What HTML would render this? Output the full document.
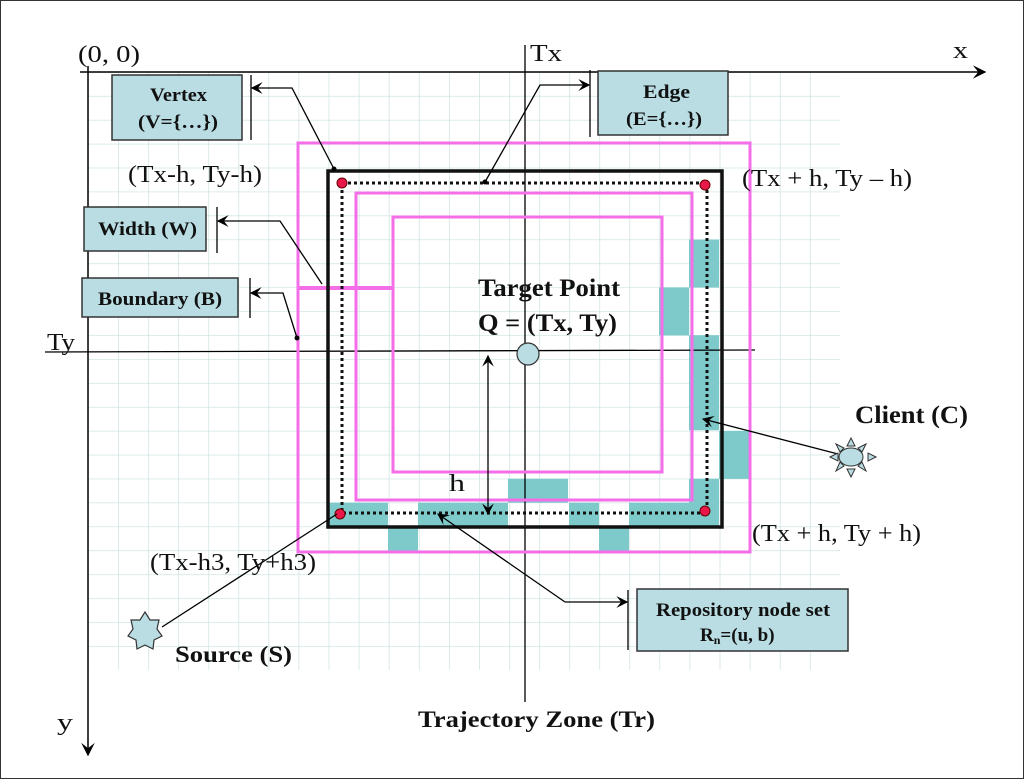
<!DOCTYPE html>
<html><head><meta charset="utf-8"><style>
html,body{margin:0;padding:0;background:#fff}
svg{display:block}
text{font-family:"Liberation Serif",serif}
.b{font-weight:bold}
</style></head><body>
<svg width="1024" height="779" viewBox="0 0 1024 779" xmlns="http://www.w3.org/2000/svg">
<defs>
<marker id="a" viewBox="0 0 10 10" refX="9" refY="5" markerWidth="9" markerHeight="9" orient="auto-start-reverse"><path d="M0,0 L10,5 L0,10 L4,5 z" fill="#000"/></marker>
<pattern id="g" x="88" y="72" width="30.08" height="23.92" patternUnits="userSpaceOnUse"><path d="M0,0 H30.08 M0,0 V23.92" stroke="#c9dfdf" stroke-width="1.3" fill="none"/></pattern>
</defs>
<rect x="0.5" y="0.5" width="1023" height="778" fill="#fff" stroke="#333"/>
<rect x="88" y="72" width="752" height="598" fill="url(#g)"/>
<g fill="#7ecaca">
<rect x="328" y="502.6" width="60" height="24"/>
<rect x="418" y="502.6" width="90" height="24"/>
<rect x="569" y="502.6" width="30" height="24"/>
<rect x="629" y="502.6" width="90" height="24"/>
<rect x="508" y="478.7" width="60" height="24"/>
<rect x="388" y="526.5" width="30" height="24"/>
<rect x="599" y="526.5" width="30" height="24"/>
<rect x="689" y="239.5" width="30" height="48"/>
<rect x="659" y="287.4" width="30" height="48"/>
<rect x="689" y="335.2" width="30" height="95"/>
<rect x="719" y="430.9" width="30" height="48"/>
<rect x="689" y="478.7" width="30" height="48"/>
</g>
<line x1="80" y1="72" x2="985" y2="72" stroke="#000" stroke-width="1.5" marker-end="url(#a)"/>
<line x1="88" y1="66" x2="88" y2="755" stroke="#000" stroke-width="1.5" marker-end="url(#a)"/>
<line x1="525" y1="45" x2="525" y2="702" stroke="#000" stroke-width="1.3"/>
<line x1="45" y1="352" x2="755" y2="350" stroke="#000" stroke-width="1.3"/>
<g fill="none" stroke="#f46ee8" stroke-width="3">
<rect x="298" y="143" width="452" height="409"/>
<rect x="356" y="193" width="336" height="307"/>
<rect x="393" y="217" width="269" height="255"/>
<line x1="298" y1="288" x2="393" y2="288" stroke-width="4"/>
</g>
<rect x="328" y="171" width="394" height="356" fill="none" stroke="#111" stroke-width="3.5"/>
<rect x="342" y="183" width="365" height="330" fill="none" stroke="#111" stroke-width="3" stroke-dasharray="3,3"/>
<g fill="#e8194a" stroke="#600" stroke-width="1"><circle cx="342" cy="183" r="5"/><circle cx="705" cy="185" r="5"/><circle cx="340" cy="514" r="5"/><circle cx="705" cy="511" r="5"/></g>
<circle cx="528" cy="354" r="11" fill="#b9dde3" stroke="#333" stroke-width="1.2"/>
<line x1="488" y1="356" x2="488" y2="514" stroke="#000" stroke-width="1.3" marker-start="url(#a)" marker-end="url(#a)"/>
<g fill="#b9dde3" stroke="#333" stroke-width="1.5">
<rect x="112" y="75" width="130" height="65"/>
<rect x="598" y="71" width="130" height="64"/>
<rect x="84" y="207" width="122" height="44"/>
<rect x="82" y="278" width="156" height="39"/>
<rect x="637" y="589" width="211" height="62"/>
</g>
<g stroke="#000" stroke-width="1.3">
<line x1="251" y1="75" x2="251" y2="140"/>
<line x1="590" y1="70" x2="590" y2="137"/>
<line x1="217" y1="207" x2="217" y2="253"/>
<line x1="250" y1="278" x2="250" y2="318"/>
<line x1="628" y1="590" x2="628" y2="650"/>
</g>
<g fill="none" stroke="#000" stroke-width="1.3">
<polyline points="334,169 292,88 252,88" marker-end="url(#a)"/>
<polyline points="485,182 540,85 589,85" marker-end="url(#a)"/>
<polyline points="322,284 280,221 218,221" marker-end="url(#a)"/>
<polyline points="297,338 283,293 251,293" marker-end="url(#a)"/>
<polyline points="565,602 627,602" marker-end="url(#a)"/>
<line x1="565" y1="602" x2="438" y2="514" marker-end="url(#a)"/>
<line x1="838" y1="454" x2="703" y2="419" marker-end="url(#a)"/>
<line x1="162" y1="627" x2="337" y2="514"/>
</g>
<circle cx="334" cy="169" r="2.5"/><circle cx="485" cy="182" r="2.5"/><circle cx="297" cy="338" r="2.5"/>
<polygon points="145,612 150,620 159,620 157,629 162,636 154,640 153,649 145,645 137,649 136,640 128,636 133,629 131,620 140,620" fill="#b9dde3" stroke="#333" stroke-width="1.2"/>
<g fill="#b9dde3" stroke="#333" stroke-width="1">
<polygon points="851,438 855,446 847,446"/><polygon points="851,477 855,469 847,469"/>
<polygon points="830,457 838,453 838,461"/><polygon points="876,457 868,453 868,461"/>
<polygon points="836,444 844,448 840,452"/><polygon points="866,444 858,448 862,452"/>
<polygon points="836,471 844,466 840,462"/><polygon points="866,471 858,466 862,462"/>
<ellipse cx="851" cy="457" rx="12" ry="9"/>
</g>
<g font-size="24" fill="#111" lengthAdjust="spacingAndGlyphs">
<text x="78" y="62" textLength="62" lengthAdjust="spacingAndGlyphs">(0, 0)</text>
<text x="530" y="61" textLength="32" lengthAdjust="spacingAndGlyphs">Tx</text>
<text x="953" y="58" textLength="15" lengthAdjust="spacingAndGlyphs">x</text>
<text x="47" y="350" textLength="28" lengthAdjust="spacingAndGlyphs">Ty</text>
<text x="57" y="730" textLength="16" lengthAdjust="spacingAndGlyphs">y</text>
<text x="128" y="182" textLength="134" lengthAdjust="spacingAndGlyphs">(Tx-h, Ty-h)</text>
<text x="742" y="186" textLength="170" lengthAdjust="spacingAndGlyphs">(Tx + h, Ty – h)</text>
<text x="752" y="541" textLength="169" lengthAdjust="spacingAndGlyphs">(Tx + h, Ty + h)</text>
<text x="150" y="570" textLength="166" lengthAdjust="spacingAndGlyphs">(Tx-h3, Ty+h3)</text>
<text x="449" y="491" textLength="16" lengthAdjust="spacingAndGlyphs">h</text>
</g>
<g class="b" fill="#111">
<text x="478" y="296" font-size="25" textLength="142" lengthAdjust="spacingAndGlyphs">Target Point</text>
<text x="478" y="331" font-size="25" textLength="139" lengthAdjust="spacingAndGlyphs">Q = (Tx, Ty)</text>
<text x="855" y="423" font-size="25" textLength="113" lengthAdjust="spacingAndGlyphs">Client (C)</text>
<text x="175" y="662" font-size="23" textLength="117" lengthAdjust="spacingAndGlyphs">Source (S)</text>
<text x="418" y="727" font-size="23" textLength="237" lengthAdjust="spacingAndGlyphs">Trajectory Zone (Tr)</text>
<g font-size="19">
<text x="150" y="101" textLength="57" lengthAdjust="spacingAndGlyphs">Vertex</text>
<text x="138" y="128" textLength="80" lengthAdjust="spacingAndGlyphs">(V={…})</text>
<text x="643" y="98" textLength="47" lengthAdjust="spacingAndGlyphs">Edge</text>
<text x="626" y="125" textLength="76" lengthAdjust="spacingAndGlyphs">(E={…})</text>
<text x="98" y="235" textLength="99" lengthAdjust="spacingAndGlyphs">Width (W)</text>
<text x="98" y="305" textLength="124" lengthAdjust="spacingAndGlyphs">Boundary (B)</text>
<text x="656" y="616" textLength="174" lengthAdjust="spacingAndGlyphs">Repository node set</text>
<text x="700" y="641">R<tspan font-size="12" dy="3">n</tspan><tspan dy="-3">=(u, b)</tspan></text>
</g>
</g>
</svg>
</body></html>
